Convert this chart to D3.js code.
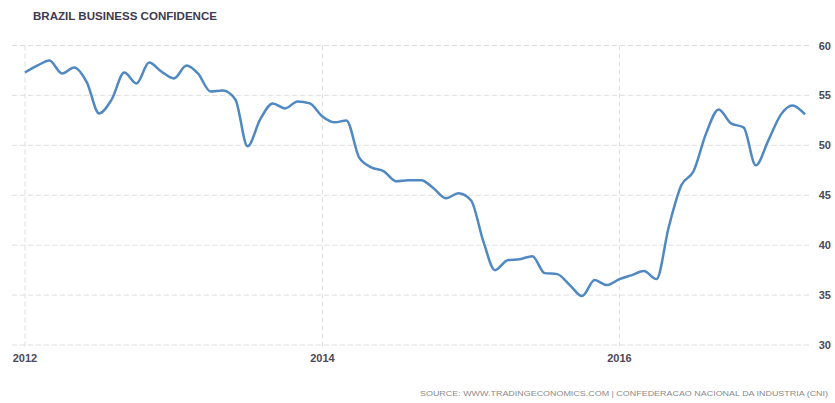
<!DOCTYPE html>
<html>
<head>
<meta charset="utf-8">
<script src="https://cdn.jsdelivr.net/npm/d3@7"></script>
<style>
    body { margin: 0; background: #fff; }
    svg { display: block; font-family: "Liberation Sans", Arial, sans-serif; }
</style>
</head>
<body>
<svg id="chart" width="835" height="403"></svg>
<script>
// monthly readings, Jan 2012 .. Apr 2017
const startMonth = new Date(2012, 0, 1);
const confidence = [
    57.3, 58.0, 58.5, 57.2, 57.8, 56.3, 53.2, 54.6, 57.3, 56.2, 58.3, 57.4,   // 2012
    56.7, 58.0, 57.2, 55.4, 55.5, 54.6, 49.9, 52.6, 54.2, 53.7, 54.4, 54.2,   // 2013
    52.9, 52.3, 52.5, 48.8, 47.8, 47.4, 46.4, 46.5, 46.5, 45.7, 44.7, 45.2,   // 2014
    44.5, 40.3, 37.5, 38.5, 38.6, 38.9, 37.2, 37.1, 36.0, 34.9, 36.5, 36.0,   // 2015
    36.6, 37.0, 37.4, 36.6, 41.8, 46.0, 47.4, 51.2, 53.6, 52.2, 51.8, 48.0,   // 2016
    50.5, 53.1, 54.0, 53.1                                                    // 2017
];
const yTicks = [30, 35, 40, 45, 50, 55, 60];
const xTickYears = [2012, 2014, 2016];
const title = 'BRAZIL BUSINESS CONFIDENCE';
const source = 'SOURCE: WWW.TRADINGECONOMICS.COM | CONFEDERACAO NACIONAL DA INDUSTRIA (CNI)';

const data = confidence.map((v, i) => ({
    date: new Date(startMonth.getFullYear(), startMonth.getMonth() + i, 1),
    value: v
}));

const svg = d3.select('#chart');

const x = d3.scaleTime()
    .domain([new Date(2012, 0, 1), new Date(2017, 3, 1)])
    .range([25, 805]);

const y = d3.scaleLinear()
    .domain([30, 60])
    .range([345, 45.5]);

// horizontal grid
svg.append('g')
    .selectAll('line')
    .data(yTicks)
    .join('line')
    .attr('x1', 12)
    .attr('x2', 810)
    .attr('y1', d => y(d))
    .attr('y2', d => y(d))
    .attr('stroke', '#dedede')
    .attr('stroke-width', 1)
    .attr('stroke-dasharray', '5,3');

// vertical grid
svg.append('g')
    .selectAll('line')
    .data(xTickYears)
    .join('line')
    .attr('x1', d => x(new Date(d, 0, 1)))
    .attr('x2', d => x(new Date(d, 0, 1)))
    .attr('y1', y(60))
    .attr('y2', y(30) + 3)
    .attr('stroke', '#dedede')
    .attr('stroke-width', 1)
    .attr('stroke-dasharray', '5,3');

// y labels on the right
svg.append('g')
    .selectAll('text')
    .data(yTicks)
    .join('text')
    .attr('x', 831)
    .attr('y', d => y(d) + 4)
    .attr('text-anchor', 'end')
    .attr('font-size', 11)
    .attr('font-weight', 'bold')
    .attr('fill', '#4d4858')
    .text(d => d);

// x labels
svg.append('g')
    .selectAll('text')
    .data(xTickYears)
    .join('text')
    .attr('x', d => x(new Date(d, 0, 1)))
    .attr('y', 362)
    .attr('text-anchor', 'middle')
    .attr('font-size', 11)
    .attr('font-weight', 'bold')
    .attr('fill', '#4d4858')
    .text(d => d);

// series line
const line = d3.line()
    .x(d => x(d.date))
    .y(d => y(d.value))
    .curve(d3.curveMonotoneX);

svg.append('path')
    .datum(data)
    .attr('fill', 'none')
    .attr('stroke', '#5088c2')
    .attr('stroke-width', 2.5)
    .attr('stroke-linejoin', 'round')
    .attr('d', line);

// title and source
svg.append('text')
    .attr('x', 33)
    .attr('y', 20)
    .attr('font-size', 11)
    .attr('font-weight', 'bold')
    .attr('fill', '#3f3a4e')
    .attr('textLength', 184)
    .attr('lengthAdjust', 'spacingAndGlyphs')
    .text(title);

svg.append('text')
    .attr('x', 828)
    .attr('y', 396)
    .attr('text-anchor', 'end')
    .attr('font-size', 8)
    .attr('fill', '#8a8a8a')
    .attr('textLength', 408)
    .attr('lengthAdjust', 'spacingAndGlyphs')
    .text(source);
</script>
</body>
</html>
